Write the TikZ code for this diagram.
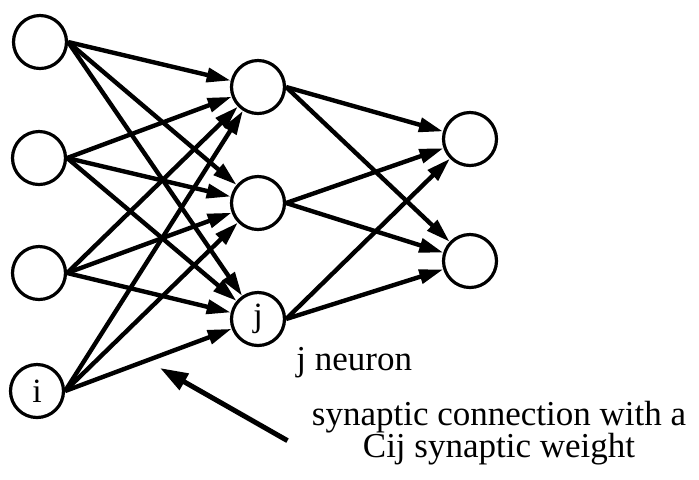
\documentclass[tikz,border=0pt]{standalone}
\usepackage{fontspec}
\setmainfont{Liberation Serif}
\usetikzlibrary{arrows.meta}

\begin{document}
\begin{tikzpicture}[x = 0.5pt, y = -0.5pt,
neuron/.style = {circle, draw=black, line width=1.6pt, minimum size=26.5pt, inner sep=0pt, font=\fontsize{17}{17}\selectfont},
link/.style = {line width=2.2pt, -{Triangle[length=12pt,width=7pt]}},
pointer/.style = {line width=2.5pt, -{Triangle[length=14pt,width=9pt]}},
caption/.style = {font=\fontsize{17.5}{16}\selectfont, inner sep=0pt}]
\useasboundingbox (0,0) rectangle (699,479);
% input layer
\node[neuron] (I1) at (40,42) {};
\node[neuron] (I2) at (39,158) {};
\node[neuron] (I3) at (39,273) {};
\node[neuron] (I4) at (37,391) {i};
% hidden layer
\node[neuron] (H1) at (258,87) {};
\node[neuron] (H2) at (258,203) {};
\node[neuron] (H3) at (258,319) {j};
% output layer
\node[neuron] (O1) at (470,139) {};
\node[neuron] (O2) at (470,261) {};

\draw[link] (I1.east) -- (H1);
\draw[link] (I1.east) -- (H2);
\draw[link] (I1.east) -- (H3);
\draw[link] (I2.east) -- (H1);
\draw[link] (I2.east) -- (H2);
\draw[link] (I2.east) -- (H3);
\draw[link] (I3.east) -- (H1);
\draw[link] (I3.east) -- (H2);
\draw[link] (I3.east) -- (H3);
\draw[link] (I4.east) -- (H1);
\draw[link] (I4.east) -- (H2);
\draw[link] (I4.east) -- (H3);

\draw[link] (H1.east) -- (O1);
\draw[link] (H1.east) -- (O2);
\draw[link] (H2.east) -- (O1);
\draw[link] (H2.east) -- (O2);
\draw[link] (H3.east) -- (O1);
\draw[link] (H3.east) -- (O2);

% labels
\node[caption, anchor=base west] (jlabel) at (296,370) {j neuron};
\node[caption, anchor=base, align=center] (weight) at (499,457) {synaptic connection with a\\Cij synaptic weight};
\coordinate (tip) at (160,368);
\draw[pointer] ([xshift=-12pt,yshift=-4pt]weight.west) -- (tip);

\end{tikzpicture}
\end{document}
